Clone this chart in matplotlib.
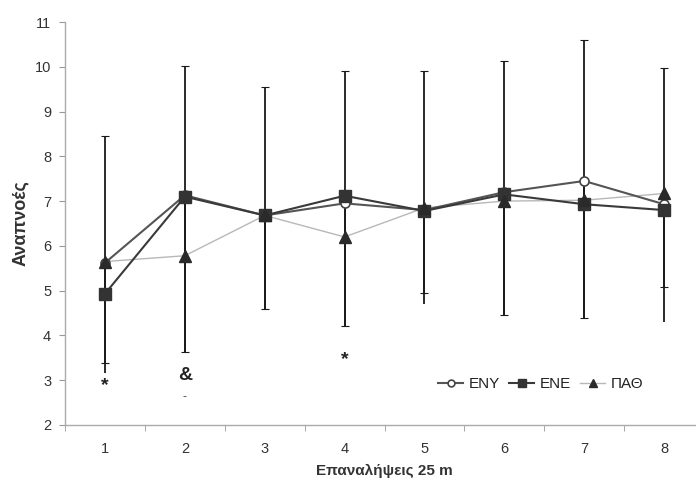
import matplotlib
matplotlib.use("Agg")
import matplotlib.pyplot as plt
import numpy as np

plt.rcParams['font.family'] = ['Liberation Sans', 'DejaVu Sans']

# Data
reps = [1, 2, 3, 4, 5, 6, 7, 8]
eny = [5.62, 7.13, 6.68, 6.95, 6.80, 7.20, 7.45, 6.93]
ene = [4.93, 7.10, 6.68, 7.12, 6.78, 7.15, 6.93, 6.80]
pao = [5.65, 5.78, 6.68, 6.20, 6.85, 7.00, 7.02, 7.17]

# error bar bounds
upper_bound = [8.45, 10.02, 9.55, 9.90, 9.90, 10.12, 10.60, 9.97]
lower_bound = [3.39, 3.64, 4.58, 4.21, 4.95, 4.46, 4.40, 5.09]
lower_bound2 = [3.17, 3.64, 4.58, 4.21, 4.70, 4.46, 4.40, 4.31]

y_label = "Αναπνοές"
x_label = "Επαναλήψεις 25 m"
series_names = ["ENY", "ENE", "ΠΑΘ"]

fig = plt.figure(figsize=(6.96, 4.91), dpi=100)
ax = fig.add_axes([65/696, (491-425)/491, (704-65)/696, (425-22)/491])

x = np.array(reps)
ene_a = np.array(ene)
eny_a = np.array(eny)

# error bars
ax.errorbar(x, ene_a, yerr=[ene_a - np.array(lower_bound), np.array(upper_bound) - ene_a],
            fmt='none', ecolor='#1a1a1a', elinewidth=1.3, capsize=3, capthick=0.8, zorder=2)
ax.errorbar(x, eny_a, yerr=[eny_a - np.array(lower_bound2), np.zeros(len(x))],
            fmt='none', ecolor='#1a1a1a', elinewidth=1.3, capsize=0, zorder=2)

# series lines
ax.plot(x, pao, color='#b8b8b8', lw=1.0, zorder=3)
ax.plot(x, eny, color='#555555', lw=1.5, zorder=3.5)
ax.plot(x, ene, color='#3a3a3a', lw=1.5, zorder=3.6)
# series markers
ax.plot(x, eny, ls='none', marker='o', ms=6.5, mfc='white', mec='#444444', mew=1.2, zorder=4)
ax.plot(x, ene, ls='none', marker='s', ms=8, mfc='#333333', mec='#333333', zorder=5)
ax.plot(x, pao, ls='none', marker='^', ms=8.5, mfc='#2a2a2a', mec='#2a2a2a', zorder=6)

# legend proxies
h_eny, = ax.plot([], [], color='#555555', lw=1.5, marker='o', ms=7, mfc='white', mec='#444444', mew=1.2)
h_ene, = ax.plot([], [], color='#3a3a3a', lw=1.5, marker='s', ms=8, mfc='#333333', mec='#333333')
h_pao, = ax.plot([], [], color='#b8b8b8', lw=1.0, marker='^', ms=8, mfc='#2a2a2a', mec='#2a2a2a')

# annotations
ax.text(1, 2.87, '*', ha='center', va='center', fontsize=14, fontweight='bold', color='#222222')
ax.text(2, 3.10, '&', ha='center', va='center', fontsize=14, fontweight='bold', color='#222222')
ax.text(2, 2.63, '-', ha='center', va='center', fontsize=9, color='#444444')
ax.text(4, 3.47, '*', ha='center', va='center', fontsize=14, fontweight='bold', color='#222222')

ax.set_xlim(0.5, 8.5)
ax.set_ylim(2, 11)
ax.set_yticks(range(2, 12))
ax.set_xticks(reps)
ax.set_xticks(np.arange(0.5, 9.0, 1.0), minor=True)
ax.tick_params(axis='x', which='major', length=0, pad=12, labelsize=10.5, labelcolor='#333333')
ax.tick_params(axis='x', which='minor', length=4, color='#999999', direction='out')
ax.tick_params(axis='y', which='major', length=4, color='#999999', labelsize=10.5,
               labelcolor='#333333', pad=6)

for s in ['top', 'right']:
    ax.spines[s].set_visible(False)
for s in ['left', 'bottom']:
    ax.spines[s].set_color('#aaaaaa')
    ax.spines[s].set_linewidth(1.0)

ax.set_ylabel(y_label, fontsize=13, fontweight='bold', color='#333333')
ax.yaxis.set_label_coords((29 - 65) / 639, 0.5)
ax.set_xlabel(x_label, fontsize=11, fontweight='bold', color='#333333', labelpad=6)

leg = ax.legend([h_eny, h_ene, h_pao], series_names,
                loc='center', bbox_to_anchor=(541/696, (491-384)/491), bbox_transform=fig.transFigure,
                ncol=3, frameon=False, handlelength=1.6, handletextpad=0.4, columnspacing=0.6,
                fontsize=11, markerscale=0.7)
for t in leg.get_texts():
    t.set_color('#222222')

fig.savefig('out.png', dpi=100, facecolor='white')
